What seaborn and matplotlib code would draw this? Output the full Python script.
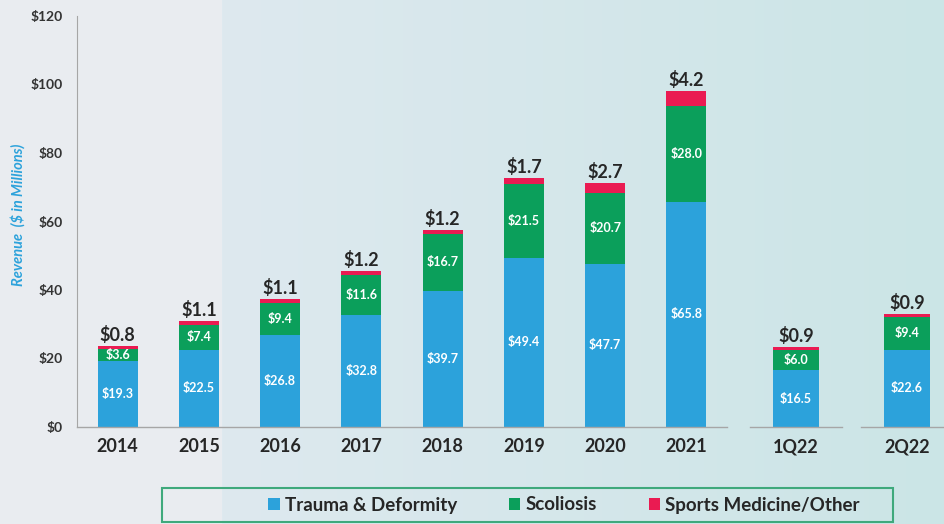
import numpy as np
import pandas as pd
import matplotlib
matplotlib.use('Agg')
import matplotlib.pyplot as plt
import seaborn as sns
from matplotlib.patches import Patch, Rectangle

# data ($ in millions)
periods = ['2014', '2015', '2016', '2017', '2018', '2019', '2020', '2021', '1Q22', '2Q22']
trauma = [19.3, 22.5, 26.8, 32.8, 39.7, 49.4, 47.7, 65.8, 16.5, 22.6]
scoliosis = [3.6, 7.4, 9.4, 11.6, 16.7, 21.5, 20.7, 28.0, 6.0, 9.4]
sports = [0.8, 1.1, 1.1, 1.2, 1.2, 1.7, 2.7, 4.2, 0.9, 0.9]
groups = ['annual'] * 8 + ['q1'] + ['q2']
series_names = ['Trauma & Deformity', 'Scoliosis', 'Sports Medicine/Other']

BLUE = '#2ca2db'
GREEN = '#0b9f5b'
RED = '#ea1b52'
DARK = '#262626'

sns.set_style('white')
plt.rcParams['font.family'] = ['Lato', 'DejaVu Sans']

df = pd.DataFrame({'period': periods, 'trauma': trauma, 'scoliosis': scoliosis,
                   'sports': sports, 'group': groups})
df['mid'] = df['trauma'] + df['scoliosis']
df['total'] = df['mid'] + df['sports']

fig = plt.figure(figsize=(9.44, 5.24), dpi=100)

# background
bg = fig.add_axes([0, 0, 1, 1], zorder=-10)
W = 944
cols = np.zeros((1, W, 3))
left = np.array([233, 236, 240]) / 255
c0 = np.array([222, 233, 239]) / 255
c1 = np.array([203, 229, 230]) / 255
for i in range(W):
    if i < 222:
        cols[0, i] = left
    else:
        t = (i - 222) / (W - 222)
        cols[0, i] = c0 * (1 - t) + c1 * t
bg.imshow(cols, aspect='auto', extent=[0, 1, 0, 1])
bg.axis('off')

bottom, top = 1 - 427 / 524, 1 - 16 / 524
h = top - bottom
ax_main = fig.add_axes([77 / 944, bottom, (727 - 77) / 944, h])
ax_q1 = fig.add_axes([750 / 944, bottom, 92 / 944, h], sharey=ax_main)
ax_q2 = fig.add_axes([861 / 944, bottom, 92 / 944, h], sharey=ax_main)

for ax, g, n, bw in [(ax_main, 'annual', 8, 0.49), (ax_q1, 'q1', 1, 0.5), (ax_q2, 'q2', 1, 0.5)]:
    sub = df[df['group'] == g]
    for col, c in [('total', RED), ('mid', GREEN), ('trauma', BLUE)]:
        sns.barplot(data=sub, x='period', y=col, color=c, saturation=1, width=bw,
                    linewidth=0, ax=ax)
    ax.set_facecolor('none')
    ax.set_xlim(-0.5, n - 0.5)
    ax.set_xlabel('')
    ax.set_ylabel('')
    for s in ['top', 'right']:
        ax.spines[s].set_visible(False)
    ax.spines['bottom'].set_color('#a6a6a6')
    ax.spines['bottom'].set_linewidth(1.0)
    ax.set_xticks(np.arange(-0.5, n), minor=True)
    ax.tick_params(axis='x', which='major', length=0, pad=8)
    ax.tick_params(axis='x', which='minor', length=6, color='#a6a6a6', width=1.0)
    for lab in ax.get_xticklabels():
        lab.set_fontsize(13)
        lab.set_fontweight('bold')
        lab.set_color(DARK)
    for i, (_, r) in enumerate(sub.iterrows()):
        ax.text(i, r['trauma'] / 2, f"${r['trauma']:.1f}", ha='center', va='center',
                color='white', fontsize=9, fontweight='bold')
        ax.text(i, r['trauma'] + r['scoliosis'] / 2, f"${r['scoliosis']:.1f}", ha='center',
                va='center', color='white', fontsize=9, fontweight='bold')
        ax.annotate(f"${r['sports']:.1f}", (i, r['total']), xytext=(0, 1.5),
                    textcoords='offset points', ha='center', va='bottom',
                    color=DARK, fontsize=13, fontweight='bold')
    if ax is not ax_main:
        ax.spines['left'].set_visible(False)
        ax.tick_params(axis='y', left=False, labelleft=False)

ax_main.set_ylim(0, 120)
ax_main.set_yticks(np.arange(0, 121, 20))
ax_main.set_yticklabels([f'${v}' for v in range(0, 121, 20)])
ax_main.spines['left'].set_color('#a6a6a6')
ax_main.tick_params(axis='y', length=4, color='#a6a6a6', pad=6)
for lab in ax_main.get_yticklabels():
    lab.set_fontsize(10)
    lab.set_fontweight('bold')
    lab.set_color('#333333')
fig.text(18 / 944, 1 - 215 / 524, 'Revenue  ($ in Millions)', rotation=90, ha='center',
         va='center', color=BLUE, fontsize=10.5, fontstyle='italic', fontweight='bold')

# legend
fig.patches.append(Rectangle((162 / 944, 2 / 524), (893 - 162) / 944, 34 / 524,
                             transform=fig.transFigure, fill=False,
                             edgecolor='#3fa97c', linewidth=1.5))
handles = [Patch(facecolor=c, edgecolor='none') for c in [BLUE, GREEN, RED]]
fig.legend(handles, series_names, loc='center left', bbox_to_anchor=(268 / 944, 1 - 505 / 524),
           ncol=3, frameon=False, borderpad=0, borderaxespad=0,
           handlelength=0.62, handleheight=0.62, handletextpad=0.28, columnspacing=2.75,
           prop={'size': 13.5, 'weight': 'bold'}, labelcolor=DARK)

fig.savefig('out.png', dpi=100)
